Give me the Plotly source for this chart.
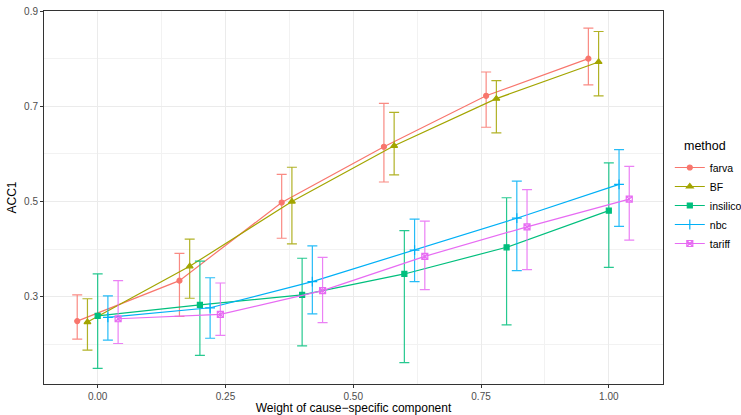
import plotly.graph_objects as go

weights = [0.0, 0.2, 0.4, 0.6, 0.8, 1.0]
methods = ["farva", "BF", "insilico", "nbc", "tariff"]

farva_mean = [0.249, 0.334, 0.498, 0.615, 0.722, 0.800]
farva_lo = [0.211, 0.259, 0.423, 0.541, 0.656, 0.745]
farva_hi = [0.304, 0.391, 0.557, 0.706, 0.772, 0.864]

bf_mean = [0.247, 0.364, 0.500, 0.617, 0.716, 0.793]
bf_lo = [0.188, 0.297, 0.411, 0.556, 0.644, 0.722]
bf_hi = [0.296, 0.421, 0.572, 0.687, 0.754, 0.857]

insilico_mean = [0.260, 0.283, 0.304, 0.348, 0.404, 0.481]
insilico_lo = [0.150, 0.177, 0.197, 0.162, 0.241, 0.362]
insilico_hi = [0.348, 0.375, 0.381, 0.439, 0.508, 0.581]

nbc_mean = [0.257, 0.277, 0.332, 0.398, 0.465, 0.536]
nbc_lo = [0.209, 0.213, 0.264, 0.332, 0.355, 0.448]
nbc_hi = [0.302, 0.340, 0.407, 0.463, 0.543, 0.609]

tariff_mean = [0.254, 0.263, 0.313, 0.385, 0.447, 0.505]
tariff_lo = [0.202, 0.219, 0.246, 0.315, 0.357, 0.419]
tariff_hi = [0.334, 0.329, 0.383, 0.459, 0.525, 0.574]

means = [farva_mean, bf_mean, insilico_mean, nbc_mean, tariff_mean]
los = [farva_lo, bf_lo, insilico_lo, nbc_lo, tariff_lo]
his = [farva_hi, bf_hi, insilico_hi, nbc_hi, tariff_hi]

dodge = [-0.04, -0.02, 0.0, 0.02, 0.04]
colors = ["#F8766D", "#A3A500", "#00BF7D", "#00B0F6", "#E76BF3"]
err_colors = ["rgba(248,118,109,0.85)", "rgba(163,165,0,0.85)", "rgba(0,191,125,0.85)",
              "rgba(0,176,246,0.85)", "rgba(231,107,243,0.85)"]
symbols = ["circle", "triangle-up", "square", "cross-thin", "square-x-open"]
sizes = [5, 6, 5, 7, 6]

FONT = "Liberation Sans, Arial, sans-serif"

fig = go.Figure()
for i, m in enumerate(methods):
    xs = [w + dodge[i] for w in weights]
    fig.add_trace(go.Scatter(
        x=xs, y=means[i], mode="lines+markers", name=m,
        line=dict(color=colors[i], width=1.2),
        marker=dict(symbol=symbols[i], size=sizes[i], color=colors[i],
                    line=dict(color=colors[i], width=1.2)),
        error_y=dict(type="data", symmetric=False,
                     array=[h - v for h, v in zip(his[i], means[i])],
                     arrayminus=[v - l for v, l in zip(means[i], los[i])],
                     color=err_colors[i], thickness=1.2, width=5),
    ))

axis_common = dict(
    showline=True, linecolor="#333333", linewidth=1, mirror=True,
    ticks="outside", ticklen=3, tickcolor="#333333", tickwidth=1,
    gridcolor="#EBEBEB", gridwidth=1.1, zeroline=False, automargin=False,
    tickfont=dict(family=FONT, size=10, color="#4D4D4D"),
)

fig.update_xaxes(
    range=[-0.105, 1.106], tickvals=[0, 0.25, 0.5, 0.75, 1.0],
    ticktext=["0.00", "0.25", "0.50", "0.75", "1.00"],
    minor=dict(tickvals=[0.125, 0.375, 0.625, 0.875], showgrid=True,
               gridcolor="#F2F2F2", gridwidth=0.6, ticks=""),
    title=dict(text="Weight of cause\u2212specific component", standoff=2,
               font=dict(family=FONT, size=12, color="black")),
    **axis_common,
)
fig.update_yaxes(
    range=[0.117, 0.9], tickvals=[0.3, 0.5, 0.7, 0.9],
    ticktext=["0.3", "0.5", "0.7", "0.9"],
    minor=dict(tickvals=[0.2, 0.4, 0.6, 0.8], showgrid=True,
               gridcolor="#F2F2F2", gridwidth=0.6, ticks=""),
    title=dict(text="ACC1", standoff=4,
               font=dict(family=FONT, size=12, color="black")),
    **axis_common,
)

fig.add_annotation(
    text="method", xref="paper", yref="paper",
    x=(682 - 44) / 619, y=1 - (146 - 11) / 373,
    xanchor="left", yanchor="middle", showarrow=False,
    font=dict(family=FONT, size=12.5, color="black"),
)

fig.update_layout(
    width=741, height=415,
    margin=dict(l=44, r=78, t=11, b=31, autoexpand=False),
    plot_bgcolor="white", paper_bgcolor="white",
    font=dict(family=FONT),
    legend=dict(
        font=dict(size=10.5, color="black"),
        x=1.011, xanchor="left", y=1 - (153 - 11) / 373, yanchor="top",
        bgcolor="rgba(0,0,0,0)", tracegroupgap=0, itemwidth=30,
    ),
)

fig.write_html("out.html", config={"displayModeBar": False},
               post_script="document.body.style.margin='0';")
